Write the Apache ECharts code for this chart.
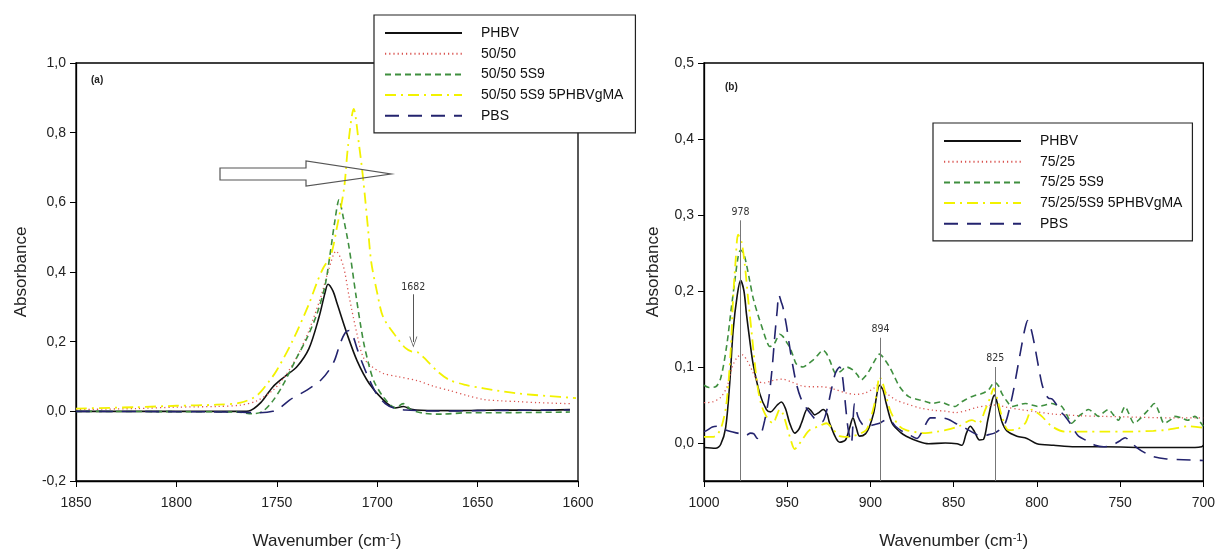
<!DOCTYPE html>
<html><head><meta charset="utf-8">
<script src="https://cdn.jsdelivr.net/npm/echarts@6/dist/echarts.min.js"></script>
<style>html,body{margin:0;padding:0;background:#fff}#c{width:1218px;height:555px}</style>
</head><body><div id="c"></div><script>
// ---------- Panel (a): 1850-1600 cm-1 ----------
const namesA = ['PHBV', '50/50', '50/50 5S9', '50/50 5S9 5PHBVgMA', 'PBS'];
const phbvA = [[1850,0.0],[1800,0.0],[1770,0.0],[1764,0.001],[1758,0.025],[1752,0.07],[1746,0.1],[1740,0.128],[1734,0.18],[1729,0.27],[1726,0.34],[1724.5,0.365],[1722,0.345],[1720,0.31],[1715,0.222],[1710,0.145],[1704,0.08],[1697,0.033],[1691,0.01],[1687,0.014],[1683,0.006],[1678,0.003],[1660,0.002],[1640,0.004],[1620,0.003],[1604,0.005]];
const blendA = [[1850,0.005],[1820,0.008],[1800,0.012],[1780,0.014],[1768,0.018],[1760,0.03],[1752,0.06],[1746,0.1],[1740,0.156],[1734,0.232],[1728,0.33],[1724,0.41],[1720.5,0.46],[1717,0.42],[1714,0.33],[1710,0.22],[1707,0.156],[1703,0.13],[1697,0.109],[1690,0.1],[1680,0.088],[1672,0.072],[1664,0.06],[1655,0.045],[1647,0.034],[1638,0.03],[1630,0.028],[1620,0.025],[1604,0.022]];
const s9A = [[1850,0.0],[1800,-0.001],[1770,-0.002],[1762,-0.007],[1757,0.0],[1752,0.03],[1747,0.075],[1740,0.155],[1735,0.21],[1730,0.28],[1726,0.36],[1723.5,0.45],[1721,0.55],[1719,0.607],[1717,0.56],[1714,0.47],[1710.5,0.33],[1707,0.205],[1704,0.13],[1701.5,0.085],[1697,0.042],[1691,0.01],[1687,0.022],[1683,0.004],[1676,-0.006],[1668,-0.008],[1655,-0.004],[1640,-0.004],[1620,-0.003],[1604,-0.002]];
const gmaA = [[1850,0.008],[1820,0.012],[1800,0.016],[1780,0.019],[1768,0.025],[1760,0.045],[1754,0.085],[1750,0.118],[1742,0.204],[1734,0.308],[1730,0.37],[1727,0.41],[1723,0.45],[1720,0.53],[1716.5,0.64],[1714.5,0.763],[1711.7,0.868],[1709,0.763],[1707,0.668],[1704.6,0.526],[1703,0.43],[1700,0.34],[1697,0.27],[1690.4,0.213],[1686,0.182],[1683,0.172],[1680,0.17],[1675.5,0.147],[1670,0.115],[1664,0.09],[1656,0.076],[1647,0.066],[1631,0.052],[1615,0.044],[1601,0.038]];
const pbsA = [[1850,0.0],[1800,-0.001],[1770,-0.002],[1760,-0.004],[1752,0.0],[1748,0.012],[1743.5,0.033],[1735,0.061],[1728,0.09],[1724,0.118],[1721,0.15],[1718.5,0.194],[1716,0.225],[1714,0.232],[1712,0.215],[1710,0.18],[1707.5,0.14],[1705,0.105],[1700.5,0.052],[1696,0.022],[1692,0.01],[1686,0.004],[1670,0.001],[1650,0.002],[1630,0.003],[1604,0.004]];
const arrowA = {w: 1682, from: 0.336, to: 0.199};

// ---------- Panel (b): 1000-700 cm-1 ----------
const namesB = ['PHBV', '75/25', '75/25 5S9', '75/25/5S9 5PHBVgMA', 'PBS'];
const phbvB = [[1000,-0.006],[993,-0.007],[990,-0.002],[987,0.02],[984.5,0.08],[982.5,0.148],[980,0.195],[978,0.214],[976,0.2],[974.5,0.17],[972.5,0.135],[970.5,0.104],[966.5,0.065],[962.5,0.044],[960,0.041],[956,0.05],[953.5,0.054],[951,0.045],[948.5,0.026],[945.5,0.013],[943,0.018],[941.5,0.026],[937.5,0.046],[935.5,0.042],[933.5,0.037],[931,0.04],[928.5,0.044],[926,0.038],[924.5,0.026],[918.5,0.001],[915,0.004],[912.5,0.02],[910.5,0.033],[908.5,0.02],[906.5,0.009],[903,0.012],[900.5,0.022],[898,0.04],[894.5,0.076],[892.5,0.07],[890.5,0.052],[887,0.026],[882,0.014],[878.5,0.009],[871,0.002],[865,-0.001],[855,0.0],[848,-0.001],[845,-0.003],[842.5,0.012],[840,0.022],[837.5,0.015],[834.5,0.004],[832,0.005],[829.5,0.03],[827,0.055],[825.5,0.063],[823.5,0.05],[821,0.028],[818,0.016],[812,0.009],[806,0.006],[800,-0.001],[790,-0.003],[777,-0.005],[760,-0.005],[730,-0.006],[705,-0.006],[701,-0.005],[700,-0.003]];
const blendB = [[1000,0.053],[995,0.054],[990,0.06],[986,0.075],[983,0.1],[980,0.113],[977,0.116],[974,0.108],[971,0.095],[968,0.082],[964,0.079],[959,0.082],[953,0.084],[947,0.08],[941,0.075],[935,0.074],[929,0.074],[922,0.071],[915,0.066],[909,0.064],[903,0.066],[898,0.072],[895,0.077],[891,0.067],[885,0.057],[879,0.052],[870,0.046],[862,0.043],[855,0.042],[849,0.04],[842,0.043],[836,0.047],[830,0.049],[825,0.05],[818,0.047],[810,0.044],[800,0.041],[790,0.038],[775,0.036],[760,0.035],[740,0.034],[720,0.033],[700,0.033]];
const s9B = [[1000,0.076],[997,0.073],[993,0.074],[990,0.085],[986.5,0.126],[984,0.17],[981.5,0.213],[979.5,0.245],[978,0.254],[976,0.248],[974.5,0.235],[972.5,0.213],[970.5,0.191],[967.5,0.168],[964.5,0.148],[962.5,0.135],[960.5,0.127],[958,0.13],[956,0.138],[954.5,0.143],[952.5,0.14],[950.5,0.133],[948.5,0.126],[946.5,0.115],[944.5,0.104],[940.5,0.1],[937.5,0.104],[934.5,0.109],[931.5,0.116],[928.5,0.122],[926.5,0.118],[924.5,0.109],[920.5,0.091],[917.5,0.095],[914.5,0.1],[910.5,0.096],[908,0.09],[905.5,0.083],[903,0.088],[900.5,0.096],[897.5,0.108],[894.5,0.117],[891.5,0.11],[888.5,0.1],[885.5,0.087],[882.5,0.074],[877,0.061],[871,0.057],[866,0.054],[863,0.052],[858,0.054],[853,0.05],[849,0.048],[846,0.053],[843,0.057],[838,0.062],[833,0.065],[829,0.07],[825.5,0.08],[823,0.075],[821,0.065],[818,0.055],[815,0.048],[811,0.05],[807,0.052],[803,0.05],[799,0.048],[795,0.05],[791,0.052],[788,0.05],[785,0.048],[782,0.037],[779,0.026],[777,0.03],[775,0.035],[772,0.04],[769,0.044],[766,0.04],[763,0.035],[760,0.04],[757,0.044],[754,0.037],[751,0.03],[749,0.04],[747,0.048],[745,0.04],[741.5,0.026],[738,0.032],[735,0.039],[732,0.046],[729.5,0.052],[726.5,0.04],[723.5,0.026],[720,0.03],[717.5,0.035],[713,0.033],[709.5,0.03],[705,0.035],[702,0.028],[700,0.022]];
const gmaB = [[1000,0.008],[995,0.008],[992,0.011],[989,0.025],[986.5,0.052],[984,0.12],[982.5,0.191],[981,0.24],[979.5,0.274],[977.5,0.265],[975.5,0.235],[973.5,0.19],[971.5,0.148],[969.5,0.105],[967.5,0.07],[965.5,0.05],[963.5,0.039],[961,0.03],[958.5,0.026],[956.5,0.035],[954.5,0.044],[952.5,0.038],[950,0.02],[948,0.005],[945.5,-0.008],[943,-0.002],[940.5,0.006],[936.5,0.017],[931,0.022],[926.5,0.026],[922.5,0.018],[918.5,0.009],[914,0.008],[910.5,0.009],[906.5,0.012],[902.5,0.017],[899.5,0.035],[896.5,0.062],[894.5,0.087],[892.5,0.078],[890.5,0.061],[888.5,0.045],[886.5,0.035],[882.5,0.022],[878.5,0.017],[872,0.014],[867,0.013],[860,0.015],[855,0.017],[847,0.022],[839,0.03],[835,0.026],[831,0.044],[828,0.06],[826,0.072],[824,0.06],[821,0.035],[817,0.017],[812,0.018],[807,0.026],[803,0.044],[800,0.04],[797,0.035],[791,0.022],[783,0.015],[770,0.015],[760,0.015],[745,0.015],[730,0.016],[723,0.017],[715,0.02],[709.5,0.022],[700.5,0.02]];
const pbsB = [[1000,0.015],[998,0.017],[995,0.021],[992,0.022],[988,0.018],[984,0.015],[978,0.012],[975,0.01],[972,0.013],[970,0.012],[968,0.006],[966,0.01],[963.5,0.03],[961,0.06],[959,0.1],[957.5,0.14],[956,0.175],[955,0.195],[953.5,0.185],[952.5,0.178],[950.5,0.155],[948.5,0.126],[946.5,0.1],[944.5,0.078],[942,0.06],[938.5,0.046],[935,0.036],[932.5,0.03],[929,0.028],[926,0.045],[923.5,0.07],[921,0.092],[918.5,0.1],[917,0.09],[915.5,0.061],[913.5,0.02],[911.5,0.0],[909.5,0.052],[907.5,0.035],[905,0.025],[902.5,0.022],[898,0.024],[894.5,0.026],[891,0.03],[888.5,0.03],[885,0.022],[882,0.017],[876,0.01],[872,0.006],[869,0.015],[866,0.028],[864,0.033],[860,0.033],[857,0.033],[853,0.031],[849,0.026],[845,0.022],[841,0.017],[836,0.011],[833,0.009],[829,0.011],[825.5,0.013],[822,0.018],[819,0.026],[816.5,0.045],[814,0.07],[811.5,0.1],[809,0.13],[807,0.152],[805.5,0.161],[803.5,0.15],[801.5,0.13],[799,0.1],[797,0.078],[795,0.065],[793,0.059],[791,0.058],[789,0.053],[786,0.042],[783,0.035],[780,0.026],[777,0.015],[775,0.009],[770,0.003],[765,-0.003],[760,-0.005],[755,-0.003],[750,0.003],[747,0.007],[744,0.002],[740,-0.006],[735,-0.013],[730,-0.018],[722,-0.021],[712,-0.022],[700,-0.023]];
const peakWaves = [978, 894, 825];
const peakTops = [0.293, 0.1385, 0.1];

// tick values
const xTicksA = [1850, 1800, 1750, 1700, 1650, 1600];
const xTicksB = [1000, 950, 900, 850, 800, 750, 700];
const yTicksB = [0, 0.1, 0.2, 0.3, 0.4, 0.5];

// ---------- styles ----------
const FONT = "'Liberation Sans', Arial, sans-serif";
const styles = [
  {color: '#111111', width: 1.6, type: 'solid'},
  {color: '#d9534f', width: 1.3, type: [1.2, 3]},
  {color: '#3f8f3f', width: 1.6, type: [6, 4]},
  {color: '#f2f200', width: 1.8, type: [11, 5, 2, 5]},
  {color: '#23236e', width: 1.6, type: [14, 9]}
];
const dataA = [phbvA, blendA, s9A, gmaA, pbsA];
const dataB = [phbvB, blendB, s9B, gmaB, pbsB];

function mkSeries(names, datas, idx) {
  return names.map((n, i) => ({
    name: n, type: 'line', xAxisIndex: idx, yAxisIndex: idx,
    data: datas[i], symbol: 'none', showSymbol: false, smooth: 0.3, silent: true,
    lineStyle: {color: styles[i].color, width: styles[i].width, type: styles[i].type},
    itemStyle: {color: styles[i].color},
    z: 3
  }));
}
const seriesA = mkSeries(namesA, dataA, 0);
const seriesB = mkSeries(namesB, dataB, 1);

const chevron = 'path://M5,0 L10,14 L9,14 L5,2.5 L1,14 L0,14 Z';
const narrowFont = "'Liberation Sans Narrow', 'DejaVu Sans Condensed', sans-serif";
seriesA[3].markLine = {
  silent: true, animation: false,
  symbol: ['none', chevron], symbolSize: [8, 11],
  lineStyle: {color: '#555', width: 1, type: 'solid'},
  label: {show: true, position: 'start', formatter: String(arrowA.w), color: '#333',
          fontSize: 10.5, fontFamily: narrowFont, distance: 2},
  data: [[{coord: [arrowA.w, arrowA.from]}, {coord: [arrowA.w, arrowA.to]}]]
};
seriesB[0].markLine = {
  silent: true, animation: false,
  symbol: ['none', 'none'],
  lineStyle: {color: '#777', width: 1, type: 'solid'},
  label: {show: true, position: 'end', color: '#333', fontSize: 10.5, distance: 3, fontFamily: narrowFont},
  data: peakWaves.map((w, i) => [
    {coord: [w, -0.05]},
    {coord: [w, peakTops[i]], label: {formatter: String(w)}}
  ])
};

const comma1 = v => v.toFixed(1).replace('.', ',');
function yAxisCommon(extra) {
  return Object.assign({
    type: 'value', nameLocation: 'middle', name: 'Absorbance',
    nameTextStyle: {fontSize: 17, color: '#222', fontFamily: FONT},
    axisLine: {show: true, onZero: false, lineStyle: {color: '#000', width: 1.3}},
    splitLine: {show: false}
  }, extra);
}
function xAxisCommon(extra) {
  return Object.assign({
    type: 'value', inverse: true, interval: 50, nameLocation: 'middle',
    name: 'Wavenumber (cm{sup|-1})',
    nameTextStyle: {fontSize: 17, color: '#222', fontFamily: FONT,
      rich: {sup: {fontSize: 11, verticalAlign: 'top', padding: [0, 0, 8, 0], color: '#222', fontFamily: FONT}}},
    axisLine: {show: true, onZero: false, lineStyle: {color: '#000', width: 1.3}},
    axisTick: {show: true, length: 6, lineStyle: {color: '#000'}},
    axisLabel: {color: '#222', fontSize: 14, fontFamily: FONT, margin: 15, formatter: v => String(v)},
    splitLine: {show: false}
  }, extra);
}

const legendCommon = {
  orient: 'vertical', backgroundColor: '#fff', borderColor: '#222', borderWidth: 1.2,
  itemWidth: 77, itemHeight: 14, itemGap: 6.7, selectedMode: false,
  itemStyle: {opacity: 0},
  textStyle: {fontSize: 14, color: '#111', fontFamily: FONT, lineHeight: 14, padding: [0, 0, 0, 14]},
  z: 10
};

const chart = echarts.init(document.getElementById('c'), null, {renderer: 'canvas'});
chart.setOption({
  animation: false,
  backgroundColor: '#fff',
  grid: [
    {left: 76, top: 63, width: 502, height: 422, show: true, borderColor: '#000', borderWidth: 1.3, backgroundColor: 'transparent'},
    {left: 704, top: 63, width: 502, height: 421, show: true, borderColor: '#000', borderWidth: 1.3, backgroundColor: 'transparent'}
  ],
  xAxis: [
    xAxisCommon({gridIndex: 0, min: xTicksA[xTicksA.length - 1], max: xTicksA[0], nameGap: 51}),
    xAxisCommon({gridIndex: 1, min: xTicksB[xTicksB.length - 1], max: xTicksB[0], nameGap: 51})
  ],
  yAxis: [
    yAxisCommon({gridIndex: 0, min: -0.2, max: 1.0, interval: 0.2, nameGap: 46,
      axisTick: {show: true, length: 6, lineStyle: {color: '#000'}},
      axisLabel: {color: '#222', fontSize: 14, fontFamily: FONT, margin: 10, formatter: comma1}}),
    yAxisCommon({gridIndex: 1, min: -0.05, max: 0.5, splitNumber: 5, nameGap: 42,
      axisTick: {show: true, length: 6, lineStyle: {color: '#000'}, customValues: yTicksB},
      axisLabel: {color: '#222', fontSize: 14, fontFamily: FONT, margin: 10, customValues: yTicksB,
        formatter: v => Math.abs(v * 10 - Math.round(v * 10)) > 1e-6 ? '' : comma1(v)}})
  ],
  legend: [
    Object.assign({}, legendCommon, {left: 374, top: 15, padding: [11, 12, 10, 10], data: namesA}),
    Object.assign({}, legendCommon, {left: 933, top: 123, padding: [11, 10, 10, 10], data: namesB})
  ],
  series: seriesA.concat(seriesB),
  graphic: [
    {type: 'text', left: 91, top: 75, z: 20, style: {text: '(a)', font: "bold 10px 'Liberation Sans', Arial", fill: '#222'}},
    {type: 'text', left: 725, top: 82, z: 20, style: {text: '(b)', font: "bold 10px 'Liberation Sans', Arial", fill: '#222'}},
    {type: 'polygon', z: 20, silent: true,
     shape: {points: [[220,168],[306,168],[306,161],[391,174],[306,186],[306,180],[220,180]]},
     style: {fill: 'transparent', stroke: '#555', lineWidth: 1.2}}
  ]
});
</script></body></html>
